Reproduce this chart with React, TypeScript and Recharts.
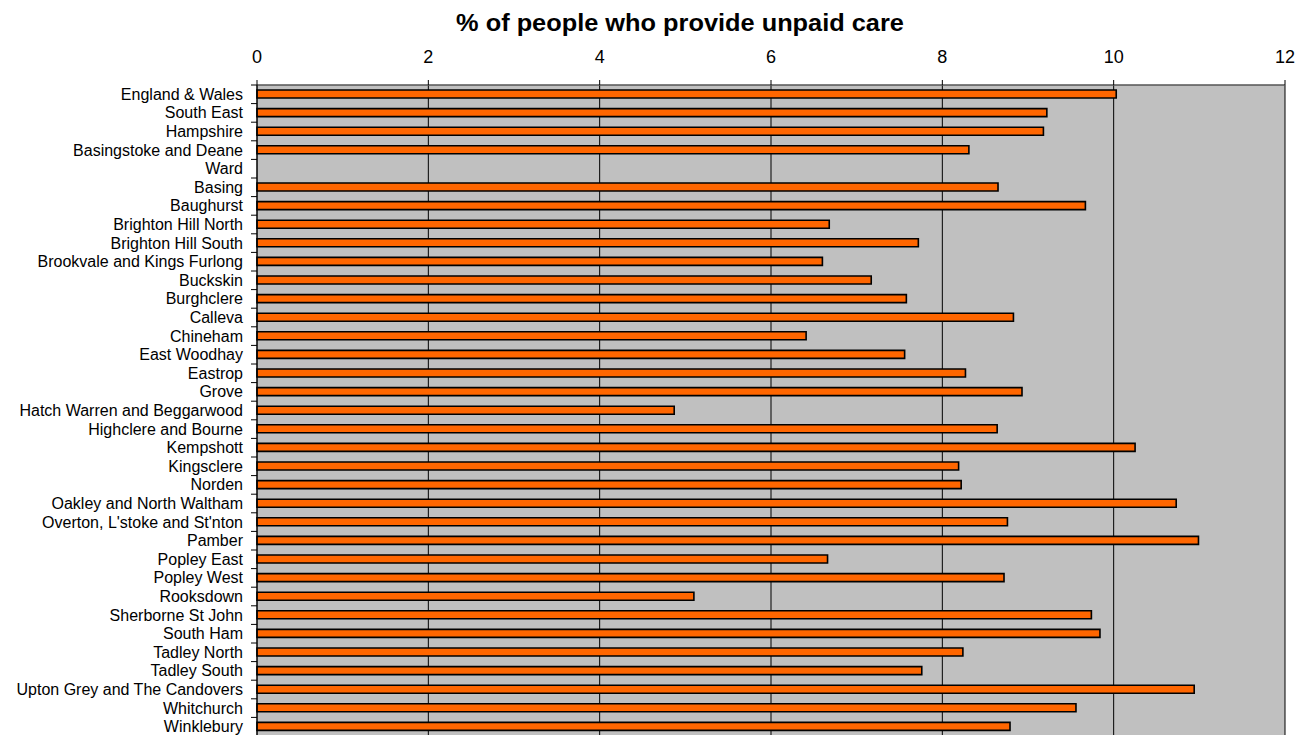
import { Bar, BarChart, CartesianGrid, XAxis, YAxis } from "recharts"

const wards = [
  "England & Wales",
  "South East",
  "Hampshire",
  "Basingstoke and Deane",
  "Ward",
  "Basing",
  "Baughurst",
  "Brighton Hill North",
  "Brighton Hill South",
  "Brookvale and Kings Furlong",
  "Buckskin",
  "Burghclere",
  "Calleva",
  "Chineham",
  "East Woodhay",
  "Eastrop",
  "Grove",
  "Hatch Warren and Beggarwood",
  "Highclere and Bourne",
  "Kempshott",
  "Kingsclere",
  "Norden",
  "Oakley and North Waltham",
  "Overton, L'stoke and St'nton",
  "Pamber",
  "Popley East",
  "Popley West",
  "Rooksdown",
  "Sherborne St John",
  "South Ham",
  "Tadley North",
  "Tadley South",
  "Upton Grey and The Candovers",
  "Whitchurch",
  "Winklebury",
]

// % providing unpaid care ("Ward" is a header row with no bar)
const carePct: (number | null)[] = [
  10.03, 9.22, 9.18, 8.31, null, 8.65, 9.67, 6.68, 7.72, 6.6, 7.17, 7.58, 8.83,
  6.41, 7.56, 8.27, 8.93, 4.87, 8.64, 10.25, 8.19, 8.22, 10.73, 8.76, 10.99,
  6.66, 8.72, 5.1, 9.74, 9.84, 8.24, 7.76, 10.94, 9.56, 8.79,
]

const xTicks = [0, 2, 4, 6, 8, 10, 12]

const data = wards.map((name, i) => ({ name, value: carePct[i] }))

const FONT = '"Liberation Sans", Arial, sans-serif'
const CHART_H = 740
const TOP = 85
const BOTTOM = 4
const band = (CHART_H - TOP - BOTTOM) / wards.length

function WardTick(props: any) {
  const { x, y, payload } = props
  return (
    <g>
      <line x1={x - 6} x2={x} y1={y - band / 2} y2={y - band / 2} stroke="#000" />
      <text x={x - 14} y={y + 5.5} textAnchor="end" fontSize={16} fontFamily={FONT} fill="#000">
        {payload.value}
      </text>
    </g>
  )
}

export default function App() {
  return (
    <div
      style={{
        position: "fixed",
        left: 0,
        top: 0,
        width: 1312,
        height: 735,
        overflow: "hidden",
        background: "#fff",
        fontFamily: FONT,
      }}
    >
      <div
        style={{
          position: "absolute",
          left: 380,
          width: 600,
          top: 9,
          textAlign: "center",
          fontWeight: "bold",
          fontSize: 24,
          transform: "scaleX(1.056)",
          whiteSpace: "nowrap",
          color: "#000",
        }}
      >
        % of people who provide unpaid care
      </div>
      <BarChart
        width={1312}
        height={CHART_H}
        data={data}
        layout="vertical"
        margin={{ top: 55, right: 27, bottom: BOTTOM, left: 0 }}
        barSize={8}
      >
        <CartesianGrid horizontal={false} stroke="#000" fill="#C0C0C0" fillOpacity={1} />
        <XAxis
          type="number"
          orientation="top"
          domain={[0, 12]}
          ticks={xTicks}
          height={30}
          tickSize={5}
          tickMargin={17}
          tick={{ fontSize: 18, fill: "#000", fontFamily: FONT }}
          tickLine={{ stroke: "#000" }}
          axisLine={{ stroke: "#555", strokeWidth: 1.5 }}
        />
        <YAxis
          type="category"
          dataKey="name"
          width={257}
          interval={0}
          tickSize={0}
          tickMargin={0}
          tick={<WardTick />}
          axisLine={{ stroke: "#000" }}
          tickLine={false}
        />
        <Bar dataKey="value" fill="#FF6600" stroke="#000" strokeWidth={1.6} isAnimationActive={false} />
      </BarChart>
    </div>
  )
}
